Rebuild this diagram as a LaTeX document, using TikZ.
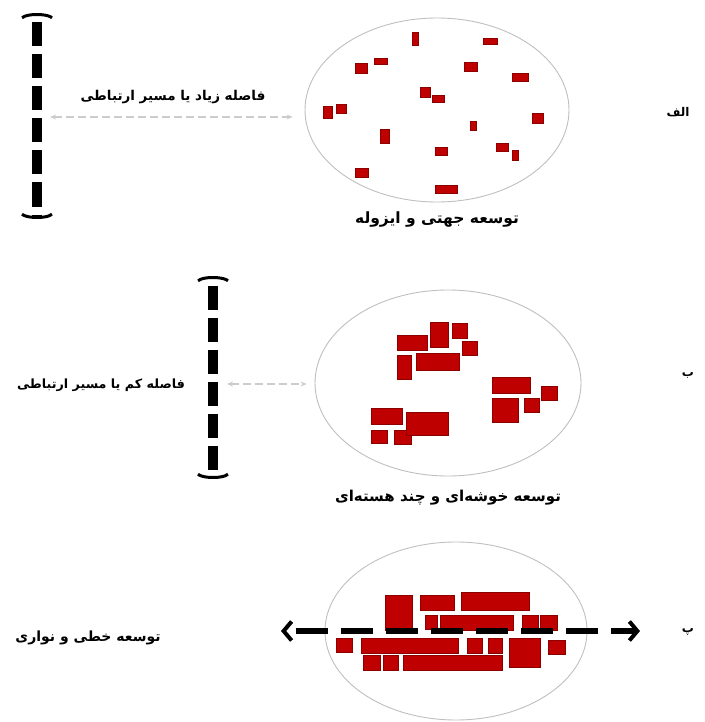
\documentclass[tikz,border=0pt]{standalone}
\usepackage{fontspec}
\newfontfamily\arabicfont[Script=Arabic]{DejaVu Sans}
\TeXXeTstate=1
\usetikzlibrary{arrows.meta,positioning,shapes.geometric}
\tikzset{
  capend/.tip={Arc Barb[width=34pt,length=6pt,line width=3pt,arc=150]},
  chev/.tip={Straight Barb[width=19pt,length=8pt,line width=4pt]},
  hop/.tip={Stealth[length=6pt,width=5pt]}
}

\begin{document}
\begin{tikzpicture}[x=1pt,y=-1pt,
    zone/.style={draw=gray!50,line width=0.9pt,ellipse,inner sep=0pt},
    lot/.style={fill=red!75!black,draw=red!55!black,line width=0.4pt},
    link/.style={draw=gray!40,line width=1.3pt,dash pattern=on 8pt off 4pt,hop-hop},
    road/.style={line width=10pt,dash pattern=on 24pt off 8pt,dash phase=24pt,capend-capend},
    strip/.style={line width=6pt,dash pattern=on 32pt off 13.1pt,dash phase=35.1pt,chev-chev},
    fa/.style={font=\arabicfont\bfseries\fontsize{#1}{#1}\selectfont,inner sep=1pt},
    fa/.default=13.5,
    tag/.style={fa=12}]
  \useasboundingbox (0,0) rectangle (704,722);
  % zones
  \node[zone,minimum width=264pt,minimum height=184pt] (zoneA) at (437,110) {};
  \node[zone,minimum width=266pt,minimum height=186pt] (zoneB) at (448,383) {};
  \node[zone,minimum width=262pt,minimum height=178pt] (zoneC) at (456,631) {};
  % lots
  \foreach \a/\b/\c/\d in {412/32/418/45,483/38/497/44,355/63/367/73,374/58/387/64,
      464/62/477/71,512/73/528/81,420/87/430/97,432/95/444/102,323/106/332/118,
      336/104/346/113,470/121/476/130,532/113/543/123,380/129/389/143,435/147/447/155,
      496/143/508/151,512/150/518/160,355/168/368/177,435/185/457/193}
    \draw[lot] (\a,\b) rectangle (\c,\d);
  \foreach \a/\b/\c/\d in {397/335/427/350,430/322/448/347,452/323/467/338,
      462/341/477/355,397/355/411/379,416/353/459/370,492/377/530/393,
      492/398/518/422,524/398/539/412,541/386/557/400,371/408/402/424,
      371/430/387/443,394/430/411/444,406/412/448/435}
    \draw[lot] (\a,\b) rectangle (\c,\d);
  \foreach \a/\b/\c/\d in {385/595/412/630,420/595/454/610,461/592/529/610,
      425/615/437/629,440/615/513/630,522/615/538/630,540/615/557/630,
      336/638/352/652,361/638/458/653,467/638/482/653,488/638/502/653,
      509/638/540/667,548/640/565/654,363/655/380/670,383/655/398/670,
      403/655/502/670}
    \draw[lot] (\a,\b) rectangle (\c,\d);
  % roads
  \coordinate (roadAtop) at (37,13);
  \coordinate (roadAbot) at (37,219);
  \coordinate (roadBtop) at (213,276);
  \coordinate (roadBbot) at (213,479);
  \coordinate (stripL) at (281,631);
  \coordinate (stripR) at (640,631);
  \draw[road] (roadAtop) -- (roadAbot);
  \draw[road] (roadBtop) -- (roadBbot);
  \draw[strip] (stripL) -- (stripR);
  % links
  \coordinate (hopA) at (50,117);
  \coordinate (hopB) at (227,384);
  \draw[link] (hopA) -- ([shift={(-12,7)}]zoneA.west);
  \draw[link] (hopB) -- ([shift={(-8,1)}]zoneB.west);
  % labels
  \node[fa] (gapA) at (173,97) {\beginR فاصله زیاد یا مسیر ارتباطی\endR};
  \node[fa=12.7] (gapB) at (101,385) {\beginR فاصله کم یا مسیر ارتباطی\endR};
  \node[fa=15.5,below=8pt of zoneA] (capA) {\beginR توسعه جهتی و ایزوله\endR};
  \node[fa=15,below=12pt of zoneB] (capB) {\beginR توسعه خوشه‌ای و چند هسته‌ای\endR};
  \node[fa=14] (capC) at (88,638) {\beginR توسعه خطی و نواری\endR};
  \node[tag] (tagA) at (678,112) {\beginR الف\endR};
  \node[tag] (tagB) at (688,375) {\beginR ب\endR};
  \node[tag] (tagC) at (688,632) {\beginR پ\endR};
\end{tikzpicture}
\end{document}
